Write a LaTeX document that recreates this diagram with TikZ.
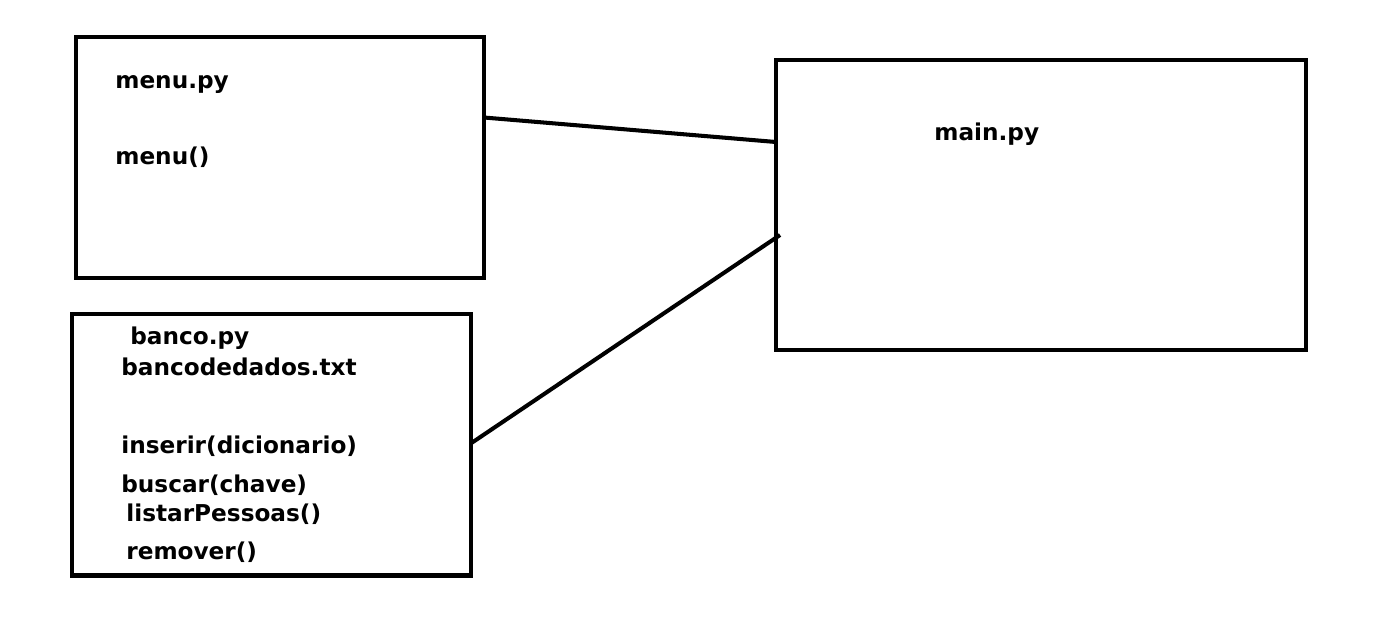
\documentclass[tikz,border=0pt]{standalone}
\usepackage{fontspec}
\setmainfont{DejaVu Sans}
\usetikzlibrary{positioning}

\begin{document}
\begin{tikzpicture}[x=0.02cm,y=-0.02cm]
\useasboundingbox (0,0) rectangle (1395,635);
\tikzset{filebox/.style={shape=rectangle,draw=black,line width=2.3pt,inner sep=0pt,outer sep=0pt},
  lbl/.style={anchor=base west,inner sep=0pt,font=\fontsize{13.2}{16}\selectfont\bfseries}}
\node[filebox,minimum width=8.17cm,minimum height=4.83cm] (menu) at (279.75,157.5) {};
\node[filebox,minimum width=8.0cm,minimum height=5.24cm] (banco) at (271.5,444.5) {};
\node[filebox,minimum width=10.6cm,minimum height=5.8cm] (main) at (1041,205) {};

\node[lbl] (menupy) at (115,89) {menu.py};
\node[lbl] (menufn) at (115,164) {menu()};
\node[lbl] (mainpy) at (934,140) {main.py};
\node[lbl] (bancopy) at (130,344) {banco.py};
\node[lbl] (bancotxt) at (121,375) {bancodedados.txt};
\node[lbl] (inserir) at (121,453) {inserir(dicionario)};
\node[lbl] (buscar) at (121,492) {buscar(chave)};
\node[lbl] (listar) at (126,521) {listarPessoas()};
\node[lbl] (remover) at (126,559) {remover()};

\path [-,draw=black,line width=2.3pt] ([yshift=0.8cm]menu.east) edge node {} ([yshift=1.26cm]main.west);
\path [-,draw=black,line width=2.3pt] ([yshift=0.03cm]banco.east) edge node {} ([xshift=0.08cm,yshift=-0.6cm]main.west);
\end{tikzpicture}
\end{document}
